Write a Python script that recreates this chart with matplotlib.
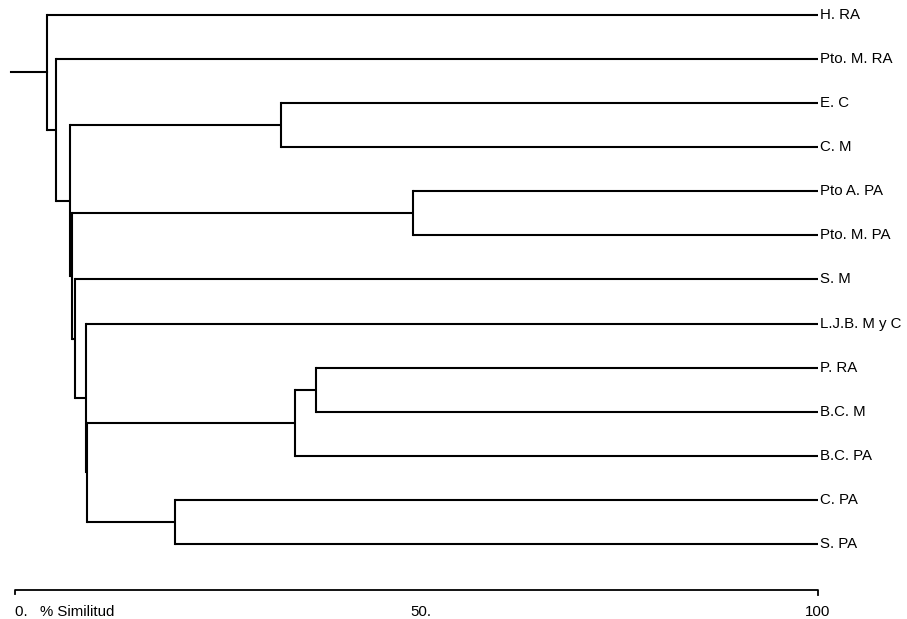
import matplotlib
matplotlib.use("Agg")
from matplotlib import pyplot as plt
import numpy as np

plt.rcParams['font.family'] = ['Liberation Sans', 'DejaVu Sans']

# leaves, top to bottom
leaves = ["H. RA", "Pto. M. RA", "E. C", "C. M", "Pto A. PA", "Pto. M. PA",
          "S. M", "L.J.B. M y C", "P. RA", "B.C. M", "B.C. PA", "C. PA", "S. PA"]

# merges: (child a, child b, % similarity); new cluster ids start at len(leaves)
merges = [
    (4, 5, 49.6),
    (8, 9, 37.5),
    (14, 10, 34.9),
    (2, 3, 33.1),
    (11, 12, 19.9),
    (15, 17, 9.0),
    (7, 18, 8.8),
    (6, 19, 7.5),
    (13, 20, 7.1),
    (16, 21, 6.85),
    (1, 22, 5.1),
    (0, 23, 4.0),
]

axis_ticks = [0, 49.2, 100]
axis_labels = ["0.   % Similitud", "50.", "100"]
axis_align = ["left", "left", "center"]


def draw_dendrogram(ax, leaves, merges):
    xs = {i: 100.0 for i in range(len(leaves))}
    ys = {i: float(i) for i in range(len(leaves))}
    for k, (a, b, s) in enumerate(merges):
        nid = len(leaves) + k
        for c in (a, b):
            ax.plot([s, xs[c]], [ys[c], ys[c]], color="black", lw=1.5,
                    solid_capstyle="butt")
        ax.plot([s, s], [ys[a], ys[b]], color="black", lw=1.5)
        xs[nid] = s
        ys[nid] = (ys[a] + ys[b]) / 2
    root = len(leaves) + len(merges) - 1
    ax.plot([-0.5, xs[root]], [ys[root], ys[root]], color="black", lw=1.5)
    for i, name in enumerate(leaves):
        ax.text(100.3, i, name, ha="left", va="center", fontsize=10.8)


fig = plt.figure(figsize=(9.07, 6.19), dpi=100)
ax = fig.add_axes([0, 0, 1, 1])
ax.set_xlim(-15 / 8.03, (907 - 15) / 8.03)
ax.set_ylim((619 - 15) / 44.08, -15 / 44.08)
ax.axis("off")

draw_dendrogram(ax, leaves, merges)

# similarity scale
ya = (590 - 15) / 44.08
ax.plot([0, 0, 100, 100], [ya + 0.1, ya, ya, ya + 0.12], color="black", lw=1.3)
for t, lab, al in zip(axis_ticks, axis_labels, axis_align):
    ax.text(t, ya + 0.5, lab, ha=al, va="center", fontsize=10.8)

fig.savefig("out.png", dpi=100)
